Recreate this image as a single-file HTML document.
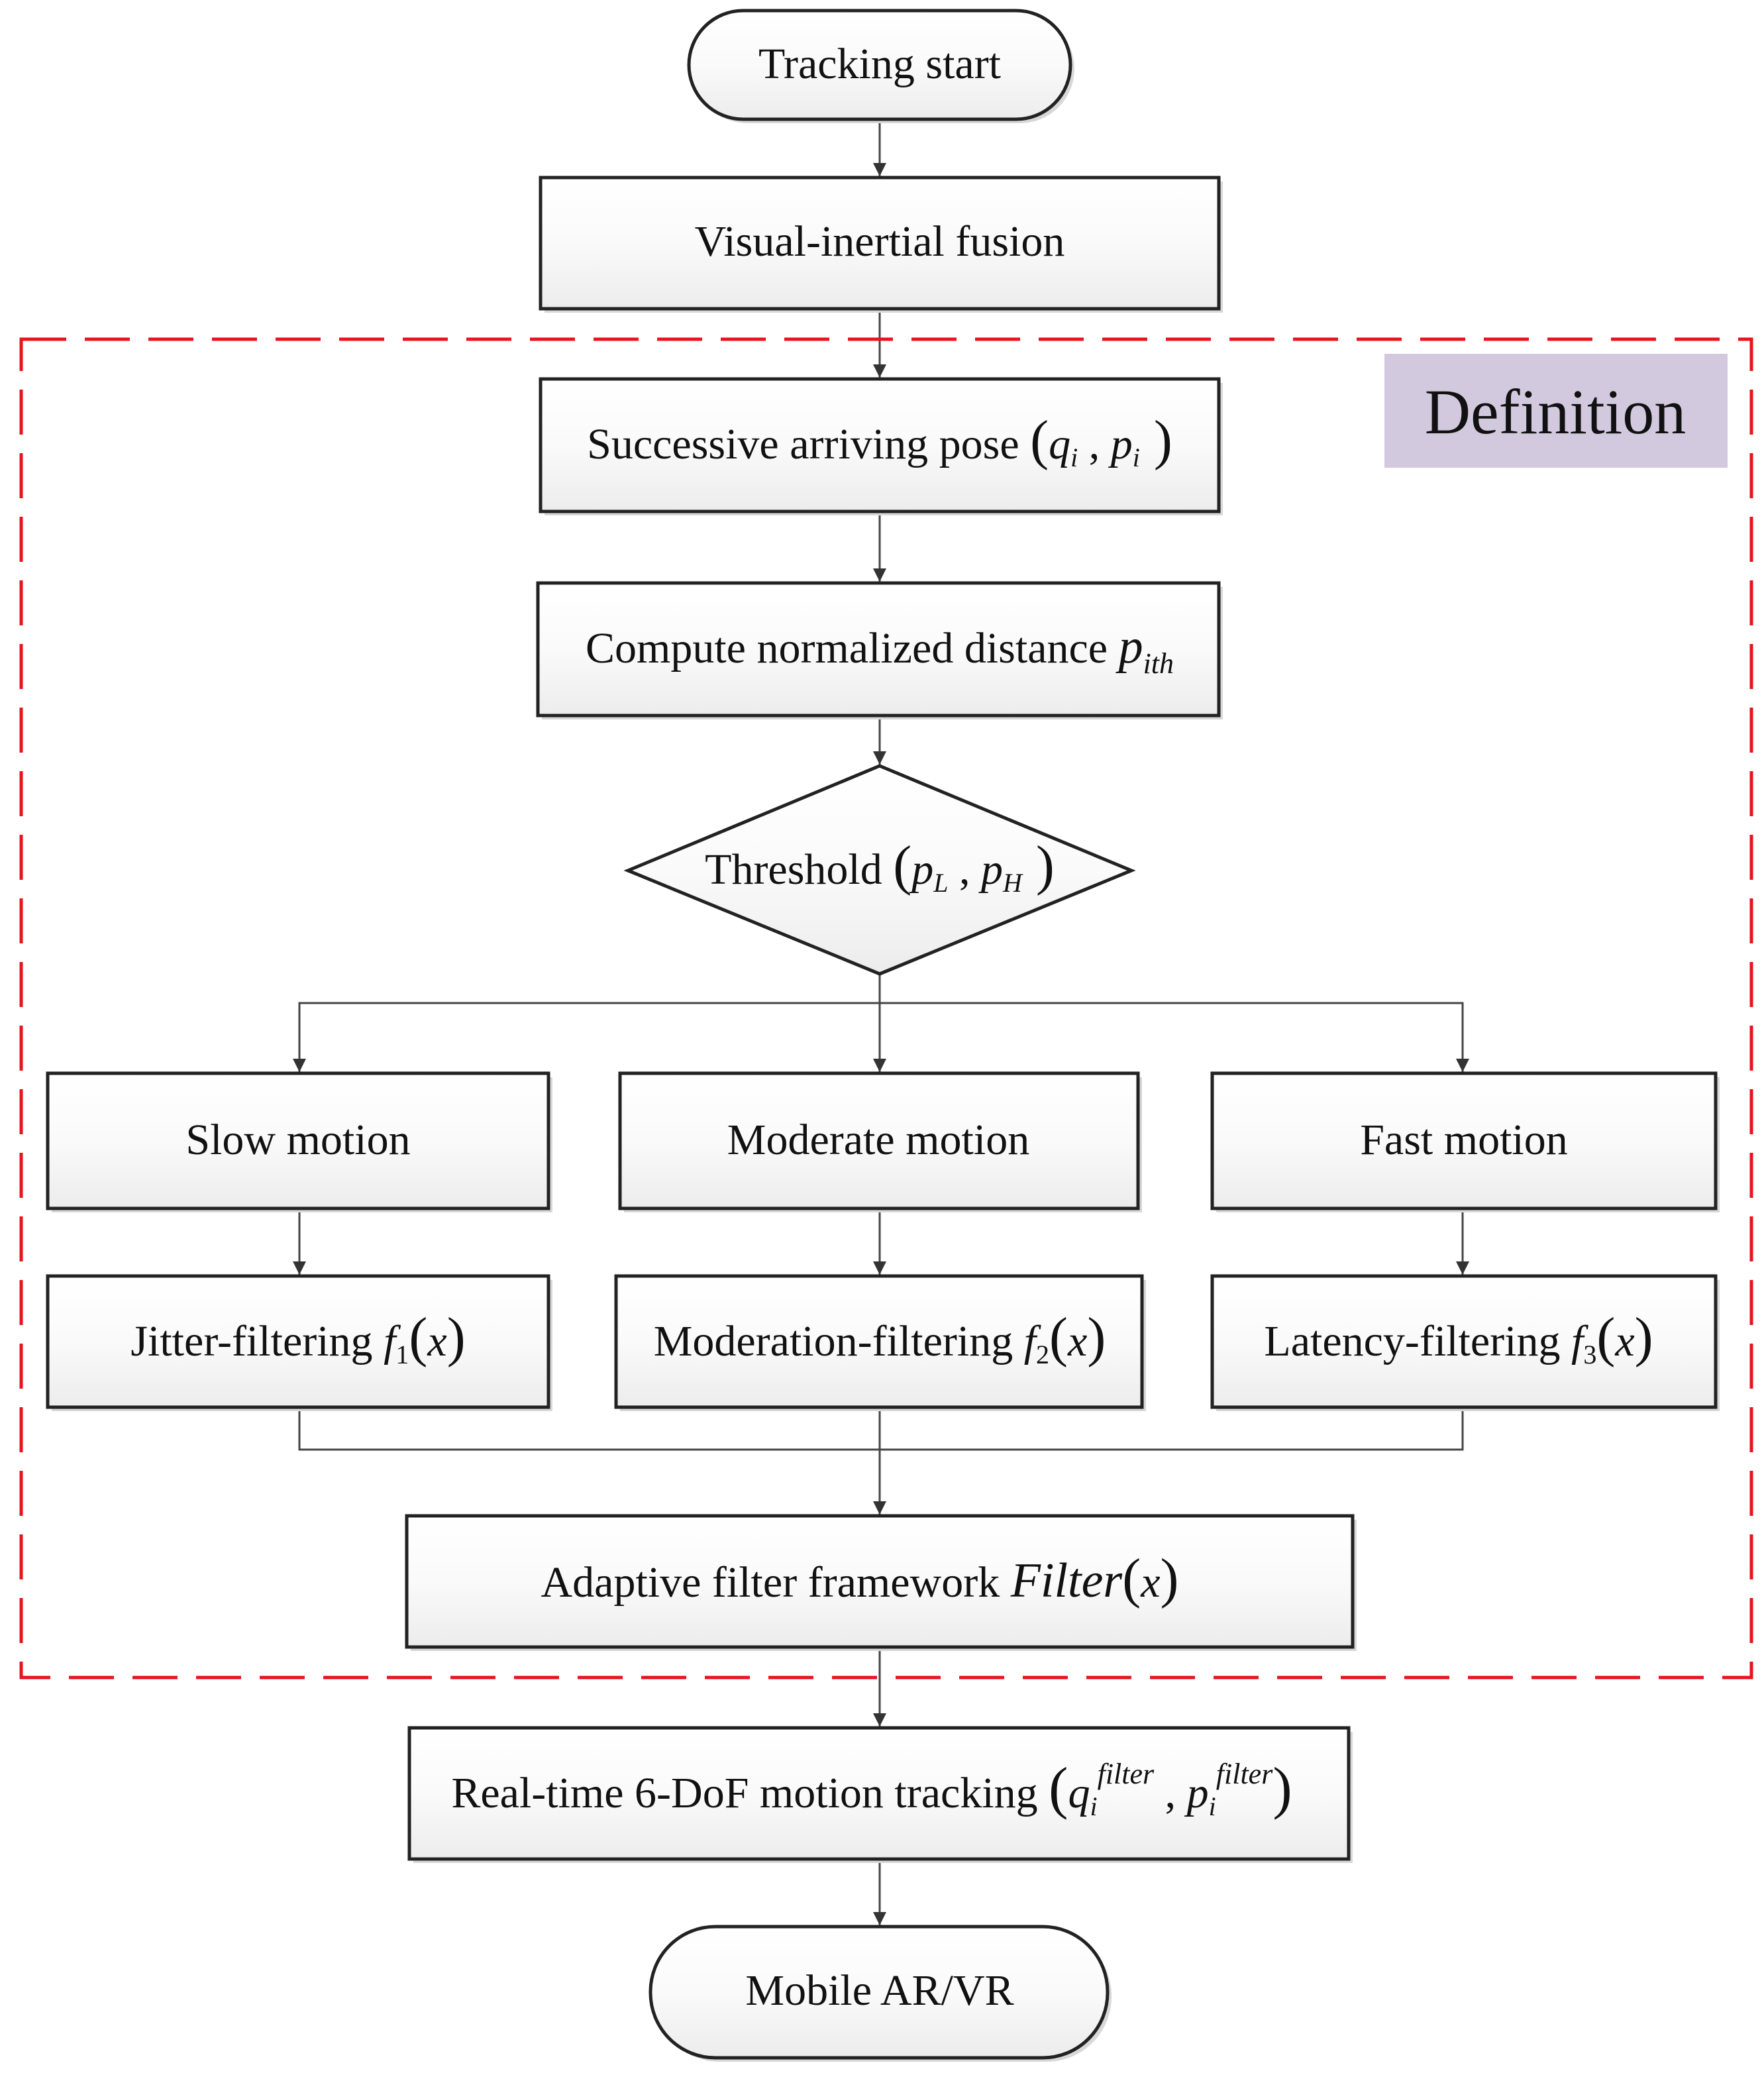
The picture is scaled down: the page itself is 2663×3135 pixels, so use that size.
<!DOCTYPE html>
<html><head><meta charset="utf-8"><style>
html,body{margin:0;padding:0;background:#fff;}
svg{display:block;}
text{font-family:"Liberation Serif",serif;fill:#111;}
</style></head><body>
<svg width="2663" height="3135" viewBox="0 0 1331.5 1567.5" xmlns="http://www.w3.org/2000/svg">
<defs>
<linearGradient id="g" x1="0" y1="0" x2="0" y2="1">
<stop offset="0" stop-color="#ffffff"/><stop offset="0.5" stop-color="#fafafa"/><stop offset="1" stop-color="#ececec"/>
</linearGradient>
<marker id="a" viewBox="0 0 10 10" refX="10" refY="5" markerWidth="10" markerHeight="10" markerUnits="userSpaceOnUse" orient="auto">
<path d="M0,0 L10,5 L0,10 z" fill="#333"/>
</marker>
</defs>
<g stroke="#444" stroke-width="1.5" fill="none">
<line x1="664" y1="90" x2="664" y2="133" marker-end="url(#a)"/>
<line x1="664" y1="233" x2="664" y2="285" marker-end="url(#a)"/>
<line x1="664" y1="386" x2="664" y2="439" marker-end="url(#a)"/>
<line x1="664" y1="540" x2="664" y2="577" marker-end="url(#a)"/>
<line x1="664" y1="735" x2="664" y2="809" marker-end="url(#a)"/>
<polyline points="664,757 226,757 226,809" marker-end="url(#a)"/>
<polyline points="664,757 1104,757 1104,809" marker-end="url(#a)"/>
<line x1="226" y1="912" x2="226" y2="962" marker-end="url(#a)"/>
<line x1="664" y1="912" x2="664" y2="962" marker-end="url(#a)"/>
<line x1="1104" y1="912" x2="1104" y2="962" marker-end="url(#a)"/>
<polyline points="226,1062 226,1094 1104,1094 1104,1062"/>
<line x1="664" y1="1062" x2="664" y2="1143" marker-end="url(#a)"/>
<line x1="664" y1="1243" x2="664" y2="1303" marker-end="url(#a)"/>
<line x1="664" y1="1403" x2="664" y2="1453" marker-end="url(#a)"/>
</g>
<rect x="16" y="256" width="1306" height="1010" fill="none" stroke="#e8141b" stroke-width="2.5" stroke-dasharray="34,14"/>
<rect x="1045" y="267" width="259" height="86" fill="#d2c9df"/>
<text x="1174" y="327" font-size="48" text-anchor="middle">Definition</text>
<g fill="#d8d8d8" stroke="none">
<rect x="523" y="11" width="288" height="82" rx="41"/>
<rect x="411" y="137" width="512" height="99"/>
<rect x="411" y="289" width="512" height="100"/>
<rect x="409" y="443" width="514" height="100"/>
<rect x="39" y="813" width="378" height="102"/>
<rect x="471" y="813" width="391" height="102"/>
<rect x="918" y="813" width="380" height="102"/>
<rect x="39" y="966" width="378" height="99"/>
<rect x="468" y="966" width="397" height="99"/>
<rect x="918" y="966" width="380" height="99"/>
<rect x="310" y="1147" width="714" height="99"/>
<rect x="312" y="1307" width="709" height="99"/>
<rect x="494" y="1457" width="345" height="99" rx="49"/>
</g>
<g stroke="#222" stroke-width="2.5" fill="url(#g)">
<rect x="520" y="8" width="288" height="82" rx="41"/>
<rect x="408" y="134" width="512" height="99"/>
<rect x="408" y="286" width="512" height="100"/>
<rect x="406" y="440" width="514" height="100"/>
<polygon points="664,578 854,657 664,735 474,657"/>
<rect x="36" y="810" width="378" height="102"/>
<rect x="468" y="810" width="391" height="102"/>
<rect x="915" y="810" width="380" height="102"/>
<rect x="36" y="963" width="378" height="99"/>
<rect x="465" y="963" width="397" height="99"/>
<rect x="915" y="963" width="380" height="99"/>
<rect x="307" y="1144" width="714" height="99"/>
<rect x="309" y="1304" width="709" height="99"/>
<rect x="491" y="1454" width="345" height="99" rx="49"/>
</g>
<g font-size="33" text-anchor="middle">
<text x="664" y="59">Tracking start</text>
<text x="664" y="193">Visual-inertial fusion</text>
<text x="664" y="346">Successive arriving pose <tspan font-size="42">(</tspan><tspan font-style="italic">q</tspan><tspan font-size="20" dy="6" font-style="italic">i</tspan><tspan dy="-6"> , </tspan><tspan font-style="italic">p</tspan><tspan font-size="20" dy="6" font-style="italic">i</tspan><tspan font-size="42" dy="-6"> )</tspan></text>
<text x="664" y="500">Compute normalized distance <tspan font-style="italic" font-size="37">p</tspan><tspan font-size="22" dy="8" font-style="italic">ith</tspan></text>
<text x="664" y="667">Threshold <tspan font-size="42">(</tspan><tspan font-style="italic">p</tspan><tspan font-size="20" dy="6" font-style="italic">L</tspan><tspan dy="-6"> , </tspan><tspan font-style="italic">p</tspan><tspan font-size="20" dy="6" font-style="italic">H</tspan><tspan font-size="42" dy="-6"> )</tspan></text>
<text x="225" y="871">Slow motion</text>
<text x="663" y="871">Moderate motion</text>
<text x="1105" y="871">Fast motion</text>
<text x="225" y="1023">Jitter-filtering  <tspan font-style="italic">f</tspan><tspan font-size="20" dy="6">1</tspan><tspan font-size="42" dy="-6">(</tspan><tspan font-style="italic">x</tspan><tspan font-size="42">)</tspan></text>
<text x="664" y="1023">Moderation-filtering  <tspan font-style="italic">f</tspan><tspan font-size="20" dy="6">2</tspan><tspan font-size="42" dy="-6">(</tspan><tspan font-style="italic">x</tspan><tspan font-size="42">)</tspan></text>
<text x="1101" y="1023">Latency-filtering  <tspan font-style="italic">f</tspan><tspan font-size="20" dy="6">3</tspan><tspan font-size="42" dy="-6">(</tspan><tspan font-style="italic">x</tspan><tspan font-size="42">)</tspan></text>
<text x="649" y="1205">Adaptive filter framework <tspan font-style="italic" font-size="37">Filter</tspan><tspan font-size="42">(</tspan><tspan font-style="italic">x</tspan><tspan font-size="42">)</tspan></text>
<text x="658" y="1364">Real-time 6-DoF motion tracking  <tspan font-size="44">(</tspan><tspan font-style="italic">q</tspan><tspan font-size="20" dy="6" font-style="italic">i</tspan><tspan font-size="22" dy="-24" font-style="italic">filter</tspan><tspan dy="18"> , </tspan><tspan font-style="italic">p</tspan><tspan font-size="20" dy="6" font-style="italic">i</tspan><tspan font-size="22" dy="-24" font-style="italic">filter</tspan><tspan font-size="44" dy="18">)</tspan></text>
<text x="664" y="1513">Mobile AR/VR</text>
</g>
</svg>
</body></html>
